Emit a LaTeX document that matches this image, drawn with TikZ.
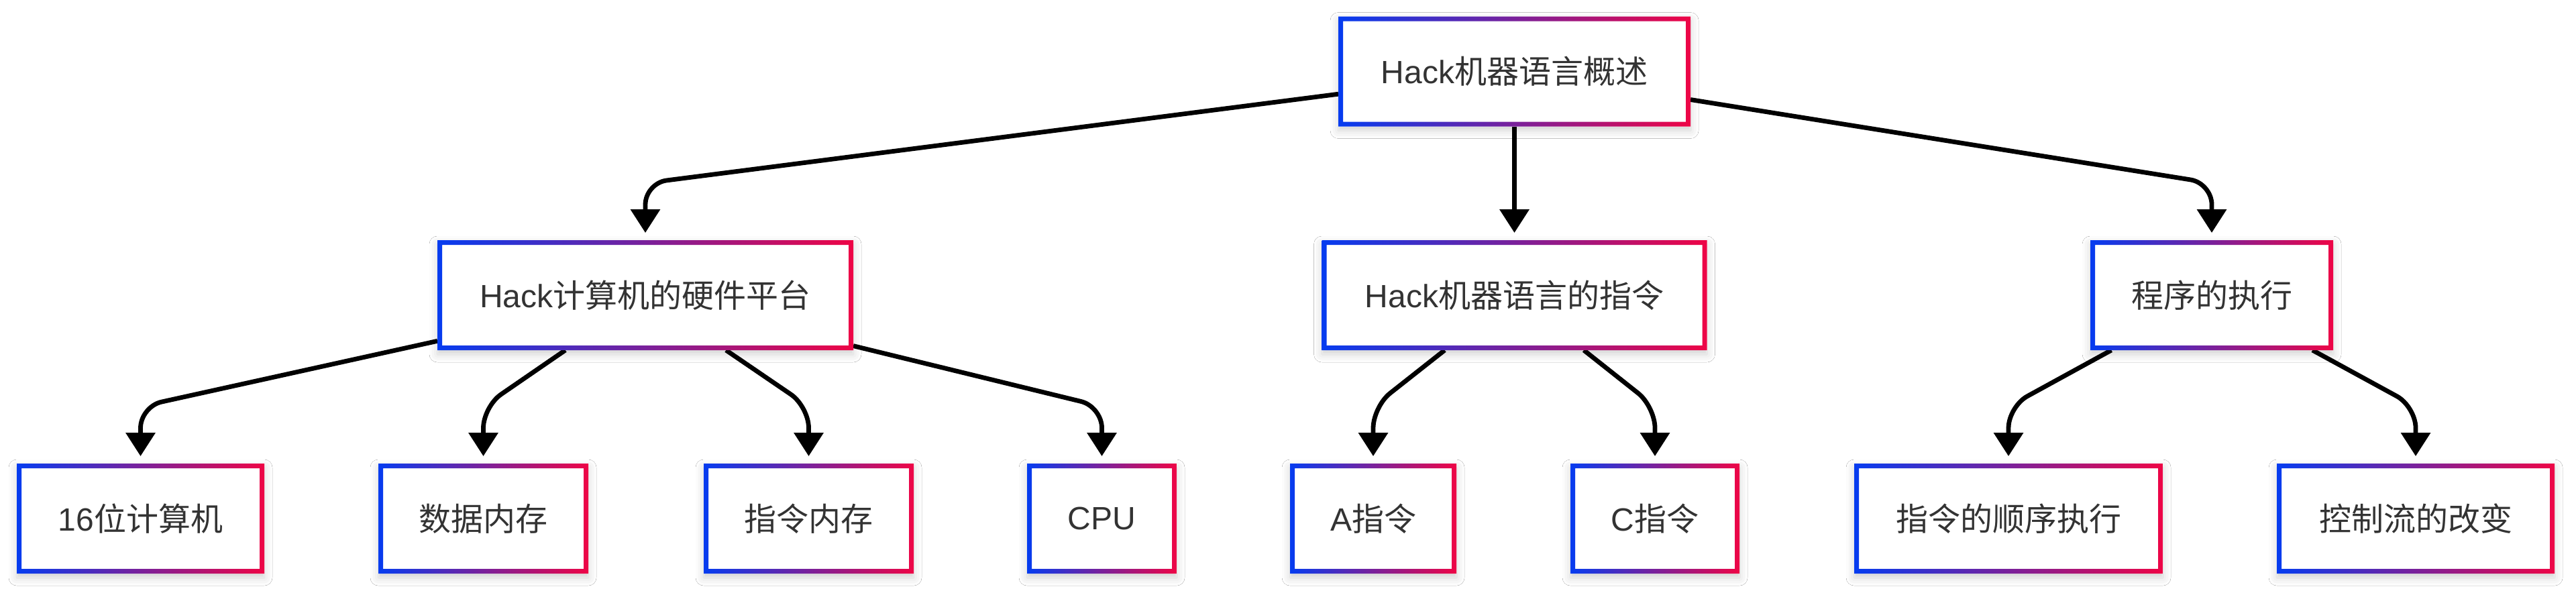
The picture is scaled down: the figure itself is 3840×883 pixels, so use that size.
\documentclass[tikz,border=0pt]{standalone}
\usepackage{fontspec}
\setmainfont{Liberation Sans}
\newfontfamily\cjk{Noto Sans CJK SC}
\usetikzlibrary{arrows.meta,shadows.blur}
\definecolor{gblue}{RGB}{5,60,240}
\definecolor{gred}{RGB}{238,5,70}
\definecolor{txt}{HTML}{333333}
\begin{document}
\begin{tikzpicture}[x=0.25pt,y=-0.25pt,
  box/.style={rectangle, fill=white, inner sep=0pt, outer sep=0pt,
    minimum height=41pt, text=txt, font=\fontsize{12pt}{14pt}\selectfont,
    blur shadow={shadow xshift=0pt, shadow yshift=-1.5pt, shadow blur radius=3pt, shadow opacity=18}},
  edge/.style={line width=1.7pt, rounded corners=8pt,
    -{Triangle[length=8.75pt,width=10.75pt]}, shorten >=2.75pt},
  ring/.style={left color=gblue, right color=gred, even odd rule}]
\useasboundingbox (0,0) rectangle (3840,883);
\fill[white] (0,0) rectangle (3840,883);
% level 1
\node[box, minimum width=131.25pt] (root) at (2257.5,106.5) {Hack{\cjk 机器语言概述}};
% level 2
\node[box, minimum width=155pt] (hw) at (962,440) {Hack{\cjk 计算机的硬件平台}};
\node[box, minimum width=143.5pt] (ins) at (2257.5,440) {Hack{\cjk 机器语言的指令}};
\node[box, minimum width=90.5pt] (run) at (3297,440) {{\cjk 程序的执行}};
% level 3
\node[box, minimum width=92.25pt] (n1) at (209.5,773) {16{\cjk 位计算机}};
\node[box, minimum width=78.25pt] (n2) at (720.5,773) {{\cjk 数据内存}};
\node[box, minimum width=78.25pt] (n3) at (1205.5,773) {{\cjk 指令内存}};
\node[box, minimum width=55.75pt] (n4) at (1642.5,773) {CPU};
\node[box, minimum width=62pt] (n5) at (2047,773) {A{\cjk 指令}};
\node[box, minimum width=63pt] (n6) at (2467,773) {C{\cjk 指令}};
\node[box, minimum width=115pt] (n7) at (2994,773) {{\cjk 指令的顺序执行}};
\node[box, minimum width=103.5pt] (n8) at (3601,773) {{\cjk 控制流的改变}};
% edges
\foreach \s/\t in {root/hw, root/ins, root/run, hw/n1, hw/n2, hw/n3, hw/n4, ins/n5, ins/n6, run/n7, run/n8}
  \draw[edge] (\s) -- ([yshift=21.25pt]\t.north) -- (\t.north);
% gradient borders
\foreach \n in {root, hw, ins, run, n1, n2, n3, n4, n5, n6, n7, n8}
  \path[ring] (\n.south west) rectangle (\n.north east)
    ([xshift=1.75pt,yshift=1.75pt]\n.south west) rectangle ([xshift=-1.75pt,yshift=-1.75pt]\n.north east);
\end{tikzpicture}
\end{document}
